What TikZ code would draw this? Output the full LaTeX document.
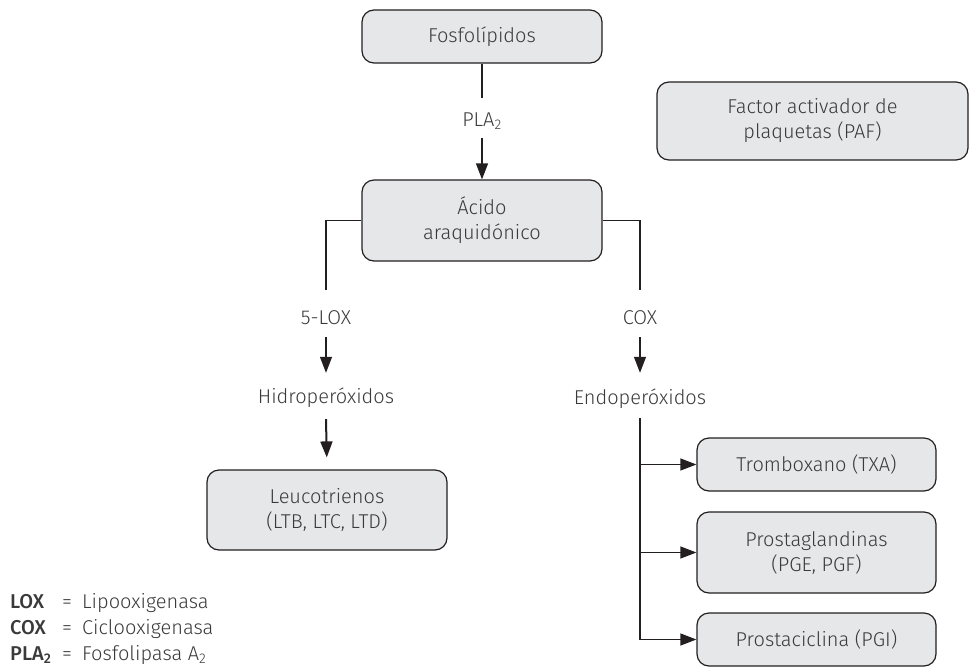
\documentclass[tikz,border=0pt]{standalone}
\usepackage{fontspec}
\setmainfont{Fira Sans}[UprightFont=* Light, BoldFont=* Medium]
\usetikzlibrary{arrows.meta}
\definecolor{linec}{HTML}{231F20}
\definecolor{boxfill}{HTML}{E6E7E8}
\definecolor{txt}{HTML}{3A3A3A}
\tikzset{
  stagebox/.style={draw=linec, fill=boxfill, rounded corners=12pt, line width=1.2pt,
    inner sep=0pt, align=center, text=txt, font=\fontsize{20}{25}\selectfont},
  plain/.style={inner xsep=2pt, inner ysep=0pt, text=txt, font=\fontsize{20}{25}\selectfont},
  conn/.style={draw=linec, line width=1.2pt},
  arr/.style={conn, -{Triangle[length=16pt,width=12pt]}},
  legend/.style={anchor=base west, inner sep=0pt, text=txt, font=\fontsize{20}{25}\selectfont},
}
\begin{document}
\begin{tikzpicture}[x=1pt,y=-1pt]
\useasboundingbox (0,0) rectangle (970,667);

% main chain
\node[stagebox, minimum width=240pt, minimum height=53pt] (fos) at (482,36.5) {Fosfolípidos};
\node[plain, anchor=base, text height=28pt, text depth=12pt] (pla) at (482,126) {PLA\textsubscript{2}};
\node[stagebox, minimum width=240pt, minimum height=81pt] (aci) at (482,220.5) {Ácido\\araquidónico};
\node[stagebox, minimum width=311pt, minimum height=78pt] (paf) at (812.5,121) {Factor activador de\\plaquetas (PAF)};

\draw[conn] (fos) -- (pla.north);
\draw[arr] (pla.south) -- (aci);

% lipoxygenase branch
\node[plain, anchor=base, text height=34pt, text depth=13pt] (lox) at (326,324) {5-LOX};
\node[plain, anchor=base, text height=30pt, text depth=16pt] (hid) at (326,403) {Hidroperóxidos};
\node[stagebox, minimum width=240pt, minimum height=80pt] (leu) at (327,510) {Leucotrienos\\(LTB, LTC, LTD)};

\draw[conn] (aci.west) -| (lox.north);
\draw[arr] (lox.south) -- (hid.north);
\draw[arr, line width=2pt, shorten >=12pt] (hid.south) -- (leu.north);

% cyclooxygenase branch
\node[plain, anchor=base, text height=34pt, text depth=13pt] (cox) at (640,324) {COX};
\node[plain, anchor=base, text height=31pt, text depth=14pt] (endo) at (640,404) {Endoperóxidos};
\node[stagebox, minimum width=239pt, minimum height=53pt] (txa) at (816.5,464.5) {Tromboxano (TXA)};
\node[stagebox, minimum width=239pt, minimum height=81pt] (pgs) at (816.5,552.5) {Prostaglandinas\\(PGE, PGF)};
\node[stagebox, minimum width=239pt, minimum height=53pt] (pgi) at (816.5,639.5) {Prostaciclina (PGI)};

\draw[conn] (aci.east) -| (cox.north);
\draw[arr] (cox.south) -- (endo.north);
\draw[arr] (endo.south) |- (pgi.west);
\draw[arr] (endo.south |- txa.west) -- (txa.west);
\draw[arr] (endo.south |- pgs.west) -- (pgs.west);

% abbreviations
\node[legend] (k1) at (10,608) {\textbf{LOX}};
\node[legend] (e1) at (62,608) {=};
\node[legend] (d1) at (82,608) {Lipooxigenasa};
\node[legend] (k2) at (10,634) {\textbf{COX}};
\node[legend] (e2) at (62,634) {=};
\node[legend] (d2) at (82,634) {Ciclooxigenasa};
\node[legend] (k3) at (10,660) {\textbf{PLA\textsubscript{2}}};
\node[legend] (e3) at (62,660) {=};
\node[legend] (d3) at (82,660) {Fosfolipasa A\textsubscript{2}};
\end{tikzpicture}
\end{document}
